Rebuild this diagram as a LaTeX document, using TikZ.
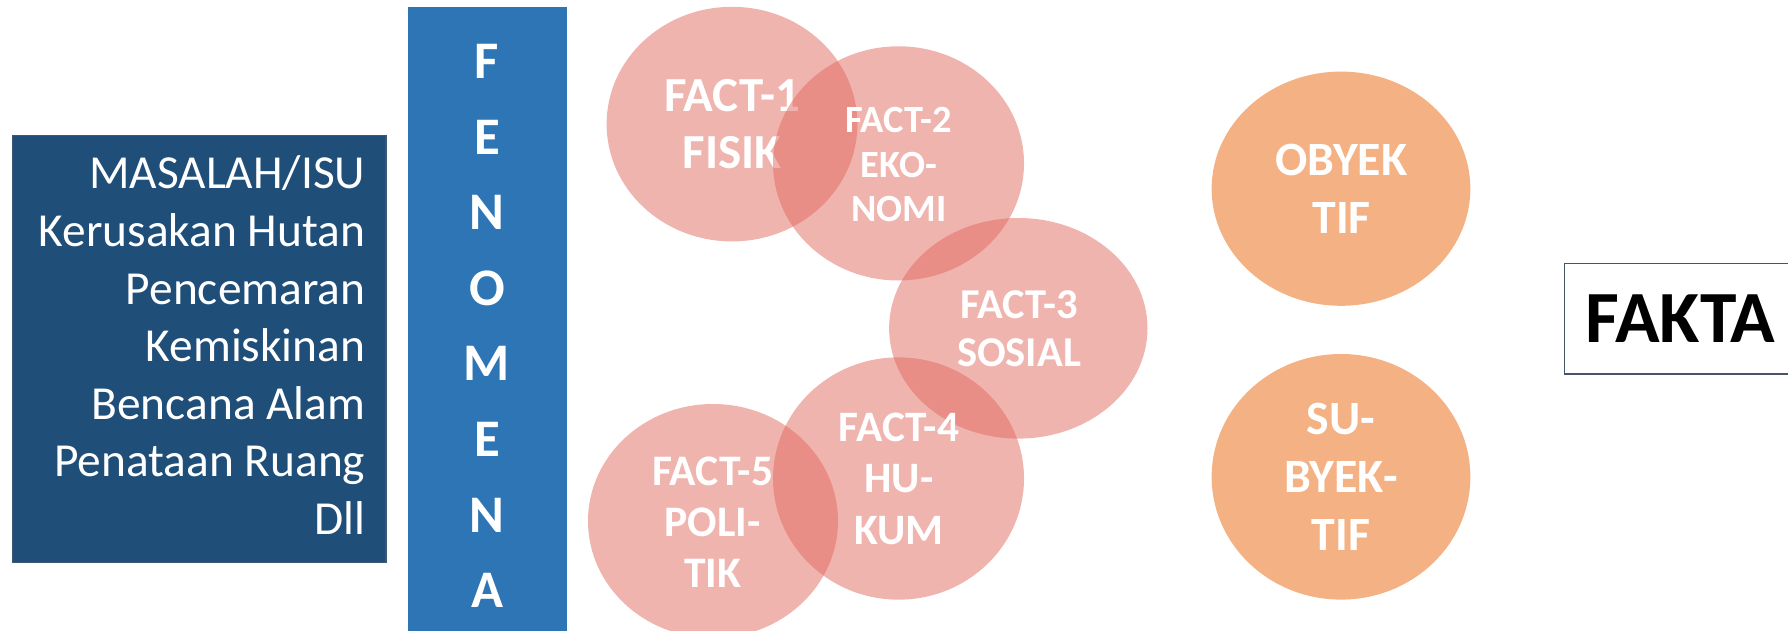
\documentclass[tikz,border=0pt]{standalone}
\usepackage{fontspec}
\setmainfont{Carlito}
\usetikzlibrary{shapes.geometric}
\definecolor{masblue}{HTML}{1F4E79}
\definecolor{masborder}{HTML}{3B5876}
\definecolor{fenblue}{HTML}{2E75B6}
\definecolor{factpink}{RGB}{225,105,95}
\definecolor{orng}{HTML}{F4B183}
\definecolor{fakborder}{HTML}{44546A}
\tikzset{
  factell/.style={ellipse, fill=factpink, fill opacity=0.5, inner sep=0pt},
  orell/.style={ellipse, fill=orng, inner sep=0pt},
  wtxt/.style={text=white, font=\bfseries, inner sep=0pt, anchor=base},
  mtxt/.style={text=white, inner sep=0pt, anchor=base east, font=\fontsize{47.4}{55}\selectfont},
}
\begin{document}
\begin{tikzpicture}[x=1pt,y=-1pt]
\useasboundingbox (0,0) rectangle (1788,631);
% MASALAH box
\node[draw=masborder, line width=1.2pt, fill=masblue, minimum width=373.9pt, minimum height=427.4pt, anchor=north west, inner sep=0pt] (masalah) at (11.5,134.8) {};
\foreach \t [count=\i] in {MASALAH/ISU, Kerusakan Hutan, Pencemaran, Kemiskinan, Bencana Alam, Penataan Ruang, Dll}
  \node[mtxt] (m\i) at (365.5, {189+57.5*(\i-1)}) {\t};
% FENOMENA bar
\node[fill=fenblue, minimum width=159pt, minimum height=640pt, anchor=north west, inner sep=0pt] (fenomena) at (408,6.8) {};
\foreach \t [count=\i] in {F,E,N,O,M,E,N,A}
  \node[wtxt, font=\bfseries\fontsize{52.8}{60}\selectfont] (fen\i) at (487, {78.5+75.6*(\i-1)}) {\t};
% FACT ellipses
\node[factell, minimum width=250.8pt, minimum height=234.6pt] (f1) at (732,124.1) {};
\foreach \t [count=\i] in {FACT-1, FISIK}
  \node[wtxt, font=\bfseries\fontsize{49}{55}\selectfont] (f1t\i) at (732, {111.8+56.6*(\i-1)}) {\t};
\node[factell, minimum width=251pt, minimum height=234.2pt] (f2) at (898.5,163.4) {};
\foreach \t [count=\i] in {FACT-2, EKO-, NOMI}
  \node[wtxt, font=\bfseries\fontsize{38.5}{45}\selectfont] (f2t\i) at (898.8, {132.7+44.4*(\i-1)}) {\t};
\node[factell, minimum width=258.4pt, minimum height=220.6pt] (f3) at (1018.3,328.3) {};
\foreach \t [count=\i] in {FACT-3, SOSIAL}
  \node[wtxt, font=\bfseries\fontsize{42.5}{48}\selectfont] (f3t\i) at (1019, {318.3+48.4*(\i-1)}) {\t};
\node[factell, minimum width=251pt, minimum height=242.3pt] (f4) at (898.5,478.5) {};
\foreach \t [count=\i] in {FACT-4, HU-, KUM}
  \node[wtxt, font=\bfseries\fontsize{43.4}{51}\selectfont] (f4t\i) at (899, {441.9+51.05*(\i-1)}) {\t};
\node[factell, minimum width=250pt, minimum height=234pt] (f5) at (713,521) {};
\foreach \t [count=\i] in {FACT-5, POLI-, TIK}
  \node[wtxt, font=\bfseries\fontsize{43.6}{51}\selectfont] (f5t\i) at (712.7, {485+51.35*(\i-1)}) {\t};
% Orange ellipses
\node[orell, minimum width=258.7pt, minimum height=234.2pt] (oby) at (1341,188.7) {};
\foreach \t [count=\i] in {OBYEK, TIF}
  \node[wtxt, font=\bfseries\fontsize{47.8}{56}\selectfont] (obyt\i) at (1341.5, {175.9+57.5*(\i-1)}) {\t};
\node[orell, minimum width=258.7pt, minimum height=245.6pt] (sub) at (1341,476.8) {};
\foreach \t [count=\i] in {SU-, BYEK-, TIF}
  \node[wtxt, font=\bfseries\fontsize{47.8}{56}\selectfont] (subt\i) at (1341, {434.6+57.7*(\i-1)}) {\t};
% FAKTA box
\node[draw=fakborder, line width=1.5pt, minimum width=260pt, minimum height=110.2pt, anchor=north west, inner sep=0pt] (faktabox) at (1563.8,262.8) {};
\node[inner sep=0pt, anchor=base west, font=\bfseries\fontsize{73.6}{80}\selectfont] (fakta) at (1585.5,342.3) {FAKTA};
\end{tikzpicture}
\end{document}
